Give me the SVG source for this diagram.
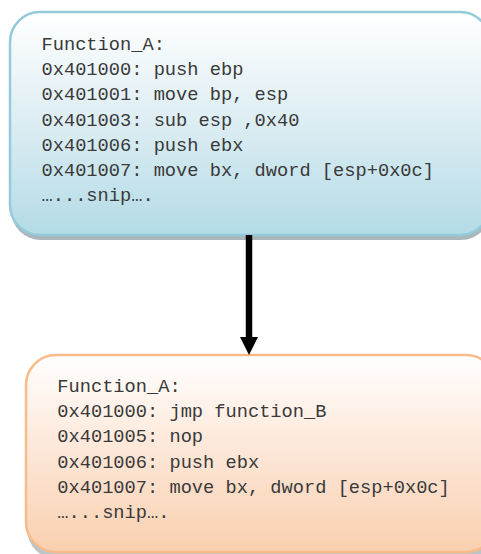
<svg xmlns="http://www.w3.org/2000/svg" width="481" height="554" viewBox="0 0 481 554">
  <defs>
    <linearGradient id="gBlue" x1="0" y1="0" x2="0" y2="1">
      <stop offset="0" stop-color="#ffffff"/>
      <stop offset="0.5" stop-color="#dcedf3"/>
      <stop offset="1" stop-color="#b3dbe6"/>
    </linearGradient>
    <linearGradient id="gOrange" x1="0" y1="0" x2="0" y2="1">
      <stop offset="0" stop-color="#ffffff"/>
      <stop offset="0.5" stop-color="#fde6d6"/>
      <stop offset="1" stop-color="#f9d0b0"/>
    </linearGradient>
    <style>
      .code { font-family: "Liberation Mono", "Courier New", monospace; font-size: 18.7px; fill: #3a3a3a; }
      .shadow { fill: #8d9ea3; }
    </style>
  </defs>
  <rect width="481" height="554" fill="#ffffff"/>

  <g id="node-top">
    <rect class="shadow" x="11" y="16" width="480" height="224" rx="30" ry="30" opacity="0.75"/>
    <rect x="10" y="12" width="480" height="223" rx="30" ry="30" fill="url(#gBlue)" stroke="#93cbda" stroke-width="2.5"/>
    <text class="code" x="41.5" y="50">Function_A:</text>
    <text class="code" x="41.5" y="75.2">0x401000: push ebp</text>
    <text class="code" x="41.5" y="100.4">0x401001: move bp, esp</text>
    <text class="code" x="41.5" y="125.6">0x401003: sub esp ,0x40</text>
    <text class="code" x="41.5" y="150.8">0x401006: push ebx</text>
    <text class="code" x="41.5" y="176">0x401007: move bx, dword [esp+0x0c]</text>
    <text class="code" x="41.5" y="201.2">…...snip….</text>
  </g>

  <g id="node-bottom">
    <rect class="shadow" x="27" y="359" width="470" height="200" rx="30" ry="30" opacity="0.6"/>
    <rect x="26" y="355" width="470" height="197" rx="30" ry="30" fill="url(#gOrange)" stroke="#f8bb8a" stroke-width="2.5"/>
    <text class="code" x="57.3" y="391.7">Function_A:</text>
    <text class="code" x="57.3" y="417">0x401000: jmp function_B</text>
    <text class="code" x="57.3" y="442.3">0x401005: nop</text>
    <text class="code" x="57.3" y="467.6">0x401006: push ebx</text>
    <text class="code" x="57.3" y="492.9">0x401007: move bx, dword [esp+0x0c]</text>
    <text class="code" x="57.3" y="518.2">…...snip….</text>
  </g>

  <g id="connectors">
    <line x1="249" y1="235" x2="249" y2="338" stroke="#000000" stroke-width="6.5"/>
    <polygon points="240,337 258,337 249,355" fill="#000000"/>
  </g>
</svg>
